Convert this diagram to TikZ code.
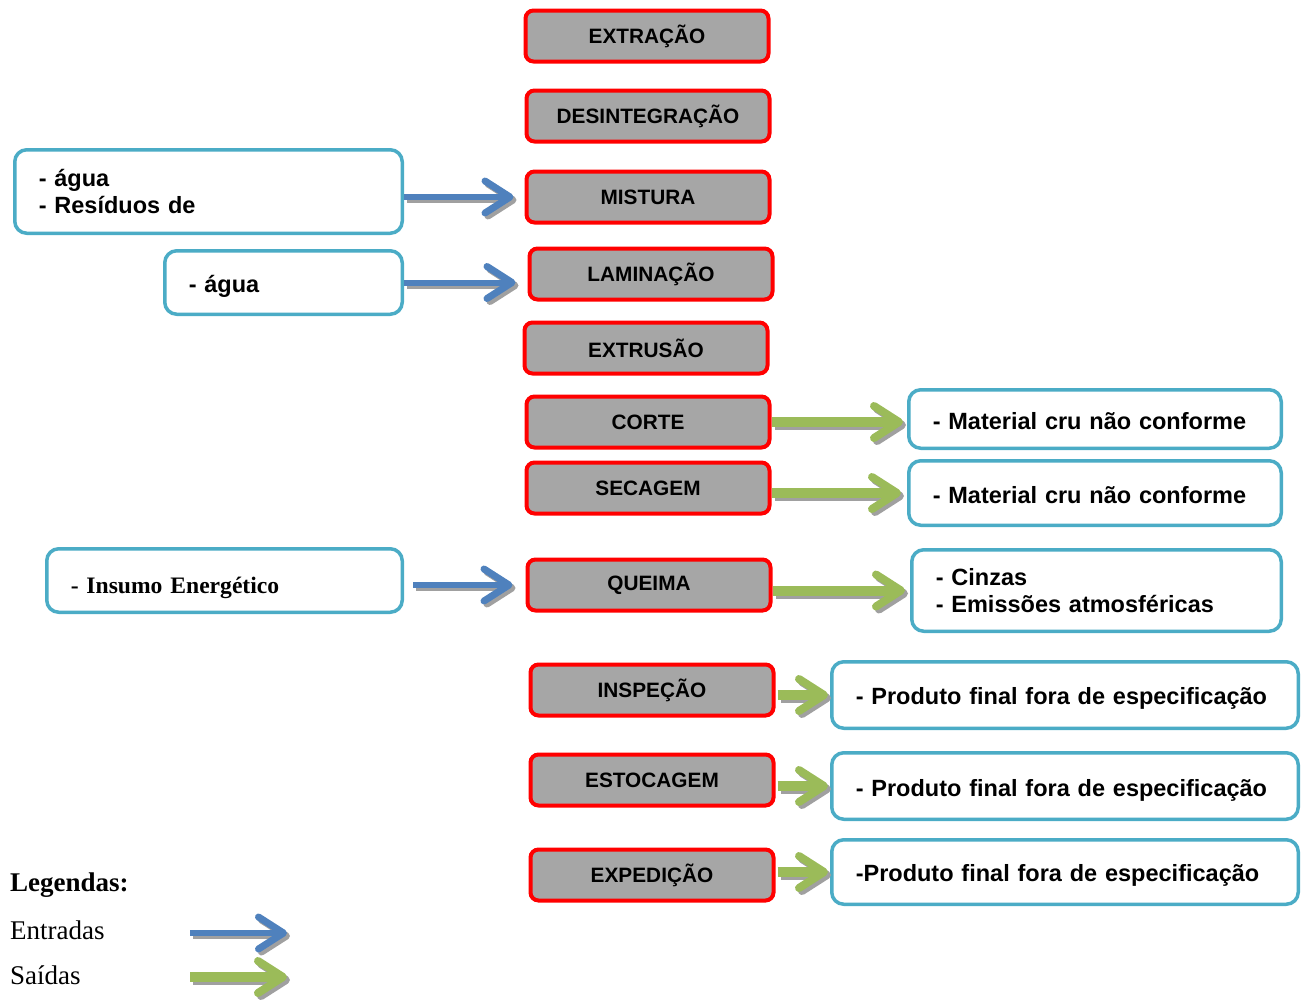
\documentclass[tikz,border=0pt]{standalone}
\usepackage{fontspec}
\setmainfont{Liberation Serif}
\newfontfamily\arialf{Liberation Sans}
\usetikzlibrary{arrows.meta}
\definecolor{procgray}{HTML}{A6A6A6}
\definecolor{cyanb}{HTML}{4BACC6}
\definecolor{bluea}{HTML}{4F81BD}
\definecolor{greena}{HTML}{9BBB59}
\definecolor{shadowgray}{HTML}{A0A0A0}
\newcommand\procfont{\arialf\bfseries\fontsize{20.8}{24}\selectfont}
\newcommand\sidefont{\arialf\bfseries\fontsize{23.5}{27}\selectfont}
\newcommand\timesbold{\bfseries\fontsize{23.6}{27}\selectfont}
\newcommand\legfont{\fontsize{27}{30}\selectfont}
\newcommand\lowtext[2]{\raisebox{-#1}[0.72em][0.21em]{#2}}
\tikzset{
  proc/.style={draw=red, line width=4pt, fill=procgray, rounded corners=8pt,
    minimum width=243pt, minimum height=51pt, font=\procfont, inner sep=0pt},
  side/.style={draw=cyanb, line width=3.5pt, fill=white, rounded corners=12pt,
    align=left, inner xsep=24pt, inner ysep=0pt, font=\sidefont},
  inarrow/.style={draw=bluea, line width=6pt,
    -{Straight Barb[length=25pt,width=32pt,line width=7pt,round]}},
  outarrow/.style={draw=greena, line width=10pt,
    -{Straight Barb[length=25pt,width=32pt,line width=8pt,round]}},
  shadowed/.style={draw=shadowgray, transform canvas={shift={(3,3)}}},
}
\newcommand\flowarr[3]{%
  \draw[#1, shadowed] #2 -- #3;
  \draw[#1] #2 -- #3;}
\begin{document}
\begin{tikzpicture}[x=1pt,y=-1pt]
\useasboundingbox (0,0) rectangle (1307,999);
% process boxes
\node[proc] (extr) at (647,36) {EXTRAÇÃO};
\node[proc] (desi) at (648,116) {DESINTEGRAÇÃO};
\node[proc] (mist) at (648,197) {MISTURA};
\node[proc] (lami) at (651,274) {LAMINAÇÃO};
\node[proc] (extu) at (646,348) {EXTRUSÃO};
\node[proc] (cort) at (648,422) {CORTE};
\node[proc] (seca) at (648,488) {SECAGEM};
\node[proc] (quei) at (649,585) {QUEIMA};
\node[proc] (insp) at (652,690) {INSPEÇÃO};
\node[proc] (esto) at (652,780) {ESTOCAGEM};
\node[proc] (expe) at (652,875) {EXPEDIÇÃO};
% input boxes
\node[side, text width=339.5pt, minimum height=83.5pt] (inA) at (208.5,191.5) {- água\\- Resíduos de};
\node[side, text width=189.5pt, minimum height=63.5pt] (inB) at (283.5,282.5) {\lowtext{4.3pt}{- água}};
\node[side, text width=307.5pt, minimum height=63.5pt, font=\timesbold] (inC) at (224.5,580.5) {\lowtext{7pt}{- Insumo Energético}};
% output boxes
\node[side, text width=324.5pt, minimum height=58.5pt] (outA) at (1095,419) {\lowtext{4.6pt}{- Material cru não conforme}};
\node[side, text width=324.5pt, minimum height=64.5pt] (outB) at (1095,493) {\lowtext{4.6pt}{- Material cru não conforme}};
\node[side, text width=321.5pt, minimum height=81.5pt] (outC) at (1096.5,590.5) {- Cinzas\\- Emissões atmosféricas};
\node[side, text width=418.5pt, minimum height=66.5pt] (outD) at (1065,695) {\lowtext{3.1pt}{- Produto final fora de especificação}};
\node[side, text width=418.5pt, minimum height=66.5pt] (outE) at (1065,786) {\lowtext{4.1pt}{- Produto final fora de especificação}};
\node[side, text width=418.5pt, minimum height=64.5pt] (outF) at (1065,872) {\lowtext{3.1pt}{-Produto final fora de especificação}};
% input arrows
\flowarr{inarrow, shorten >=11pt}{(inA.east |- mist.west)}{(mist.west)}
\flowarr{inarrow, shorten >=12pt}{(inB.east)}{(inB.east -| lami.west)}
\flowarr{inarrow, shorten <=9pt, shorten >=13pt}{(inC.east |- quei.west)}{(quei.west)}
% output arrows
\flowarr{outarrow, shorten >=4pt}{(cort.east)}{(cort.east -| outA.west)}
\flowarr{outarrow, shorten >=6pt}{(seca.east |- outB.west)}{(outB.west)}
\flowarr{outarrow, shorten >=5pt}{(quei.east |- outC.west)}{(outC.west)}
\flowarr{outarrow, shorten <=2pt, shorten >=2pt}{(insp.east |- outD.west)}{(outD.west)}
\flowarr{outarrow, shorten <=2pt, shorten >=2pt}{(esto.east |- outE.west)}{(outE.west)}
\flowarr{outarrow, shorten <=2pt, shorten >=2pt}{(expe.east |- outF.west)}{(outF.west)}
% legend
\node[anchor=west, inner sep=0pt, font=\legfont\bfseries] (leg) at (10,885) {Legendas:};
\node[anchor=west, inner sep=0pt, font=\legfont] (ent) at (10,930) {Entradas};
\node[anchor=west, inner sep=0pt, font=\legfont] (sai) at (10,975) {Saídas};
\coordinate (lb1) at (190,933);
\coordinate (lb2) at (290,933);
\coordinate (lg1) at (190,977);
\coordinate (lg2) at (290,977);
\flowarr{inarrow, shorten >=3pt}{(lb1)}{(lb2)}
\flowarr{outarrow, shorten >=3pt}{(lg1)}{(lg2)}
\end{tikzpicture}
\end{document}
